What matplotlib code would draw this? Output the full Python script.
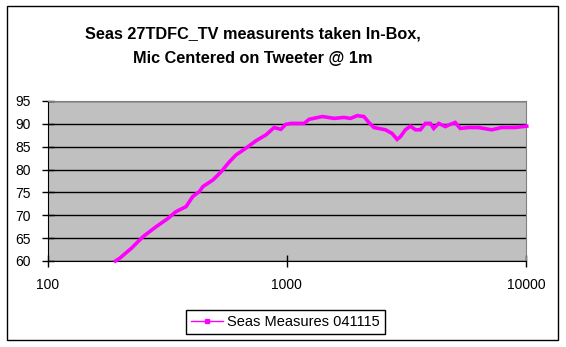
import numpy as np
import matplotlib.pyplot as plt
from matplotlib.patches import Rectangle
from matplotlib.lines import Line2D

plt.rcParams['font.family'] = ['Liberation Sans', 'DejaVu Sans']

# Frequency response (Hz, dB)
freq = [192, 200, 224, 250, 284, 318, 344, 379, 404, 431, 446, 490, 531, 575,
        613, 675, 743, 818, 885, 944, 990, 1040, 1087, 1180, 1240, 1407, 1575,
        1733, 1848, 1969, 2099, 2203, 2311, 2585, 2754, 2890, 2985, 3131, 3286,
        3449, 3617, 3795, 3981, 4111, 4315, 4600, 4825, 5060, 5310, 5754, 6312,
        7190, 7910, 9000, 10070]
level = [60.0, 60.6, 62.8, 65.3, 67.5, 69.3, 70.8, 71.9, 74.1, 75.2, 76.3, 77.7,
         79.5, 81.7, 83.2, 84.7, 86.3, 87.6, 89.2, 88.8, 89.9, 90.1, 90.1, 90.1,
         91.0, 91.6, 91.2, 91.4, 91.2, 91.8, 91.6, 90.3, 89.2, 88.7, 87.9, 86.6,
         87.2, 88.7, 89.5, 88.7, 88.7, 90.1, 90.1, 89.0, 90.1, 89.4, 89.9, 90.3,
         89.0, 89.2, 89.2, 88.7, 89.2, 89.2, 89.5]
series_name = 'Seas Measures 041115'
title = 'Seas 27TDFC_TV measurents taken In-Box,\nMic Centered on Tweeter @ 1m'

W, H = 566, 347
fig = plt.figure(figsize=(W / 100, H / 100), dpi=100)
ax = fig.add_axes([47.7 / W, 1 - 261 / H, (526 - 47.7) / W, 160 / H])

ax.set_facecolor('#C0C0C0')
ax.plot(freq, level, color='#FF00FF', lw=2.6, solid_joinstyle='miter',
        clip_on=False, zorder=3)

ax.set_xscale('log')
ax.set_xlim(100, 10000)
ax.set_ylim(60, 95)
ax.set_yticks(np.arange(60, 96, 5))
ax.set_xticks([100, 1000, 10000])
ax.set_xticklabels(['100', '1000', '10000'])
ax.minorticks_off()
ax.yaxis.grid(True, color='black', lw=1)
ax.set_axisbelow(True)
ax.tick_params(direction='inout', length=8, width=1, labelsize=10, pad=8)

for s in ['top', 'right']:
    ax.spines[s].set_color('#808080')
for s in ['left', 'bottom']:
    ax.spines[s].set_color('black')

fig.text(253 / W, 1 - 46 / H, title, ha='center', va='center',
         fontsize=11.7, fontweight='bold', linespacing=1.8)

handle = Line2D([], [], color='#FF00FF', lw=1, marker='s', ms=2.5)
leg = ax.legend([handle], [series_name], loc='center',
                bbox_to_anchor=(285.5 / W, 1 - 322 / H),
                bbox_transform=fig.transFigure, fontsize=10.5, fancybox=False,
                edgecolor='black', framealpha=1, handlelength=2.2,
                borderpad=0.35, handletextpad=0.3, borderaxespad=0)
leg.get_frame().set_linewidth(1)

fig.patches.append(Rectangle((6.5 / W, 1 - 339.5 / H), 551 / W, 333.5 / H,
                             transform=fig.transFigure, fill=False,
                             edgecolor='black', lw=1))

fig.savefig('out.png', dpi=100)
